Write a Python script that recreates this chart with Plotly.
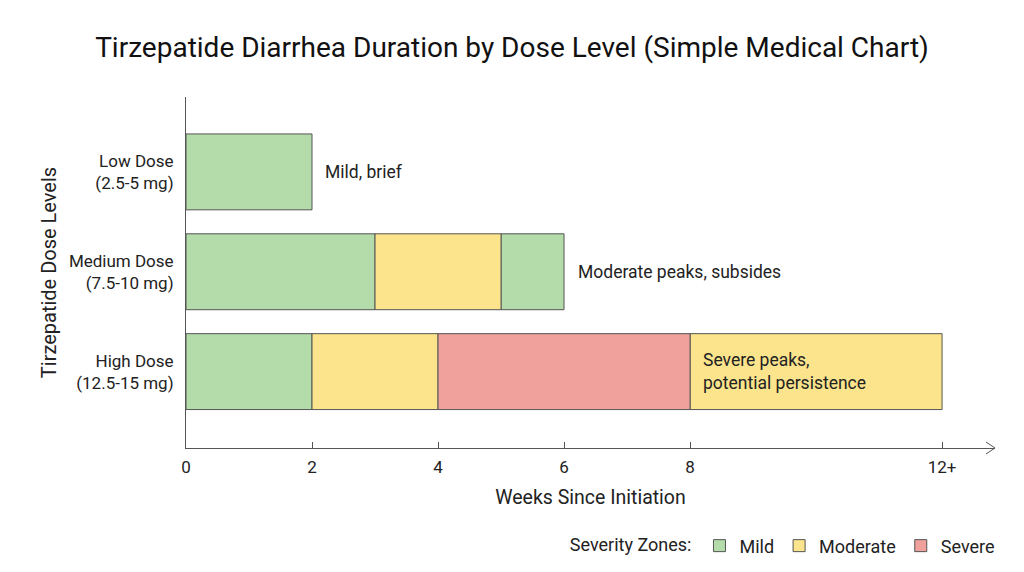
import plotly.graph_objects as go

# Data
doses = ["High Dose<br>(12.5-15 mg)", "Medium Dose<br>(7.5-10 mg)", "Low Dose<br>(2.5-5 mg)"]
seg_dose = [2, 1, 1, 1, 0, 0, 0, 0]
seg_start = [0, 0, 3, 5, 0, 2, 4, 8]
seg_end = [2, 3, 5, 6, 2, 4, 8, 12]
seg_zone = ["Mild", "Mild", "Moderate", "Mild", "Mild", "Moderate", "Severe", "Moderate"]
zones = ["Mild", "Moderate", "Severe"]
zone_colors = {"Mild": "#b3dcaa", "Moderate": "#fbe48b", "Severe": "#f0a19b"}
notes = ["Mild, brief", "Moderate peaks, subsides", "Severe peaks,<br>potential persistence"]
note_dose = [2, 1, 0]
note_x = [2.17, 6.19, 8.17]
tick_vals = [0, 2, 4, 6, 8, 12]
tick_text = ["0", "2", "4", "6", "8", "12+"]

FONT = "Roboto"
fig = go.Figure()

shown = set()
order = sorted(range(len(seg_zone)), key=lambda i: zones.index(seg_zone[i]))
for i in order:
    z = seg_zone[i]
    fig.add_trace(go.Bar(
        y=[seg_dose[i]], x=[seg_end[i] - seg_start[i]], base=[seg_start[i]],
        orientation="h", width=0.76, name=z, legendgroup=z,
        showlegend=z not in shown,
        marker=dict(color=zone_colors[z], line=dict(color="#555555", width=1)),
        hoverinfo="skip",
    ))
    shown.add(z)

for t, d, x in zip(notes, note_dose, note_x):
    fig.add_annotation(x=x, y=d, text=t, showarrow=False, xanchor="left", align="left",
                       font=dict(family=FONT, size=17.5, color="#222"))

# open chevron at the end of the x axis
fig.add_shape(type="path", xref="paper", yref="paper", xsizemode="pixel", ysizemode="pixel",
              xanchor=1.0, yanchor=0.0, path="M-9,-6 L0,0 L-9,6",
              line=dict(color="#555555", width=1))

fig.update_layout(
    width=1008, height=556,
    paper_bgcolor="white", plot_bgcolor="white",
    barmode="overlay",
    margin=dict(l=178, r=21, t=89, b=116, autoexpand=False),
    title=dict(text="Tirzepatide Diarrhea Duration by Dose Level (Simple Medical Chart)",
               x=0.5, xref="container", y=0.93, yref="container", yanchor="middle",
               font=dict(family=FONT, size=28, color="#111")),
    font=dict(family=FONT, size=17, color="#222"),
    xaxis=dict(range=[0, 12.84], tickvals=tick_vals, ticktext=tick_text,
               showline=True, linecolor="#555555", linewidth=1,
               ticks="inside", ticklen=6, tickcolor="#555555", showgrid=False,
               zeroline=False, ticklabelstandoff=4,
               title=dict(text="Weeks Since Initiation", font=dict(family=FONT, size=19.5), standoff=13),
               tickfont=dict(family=FONT, size=17)),
    yaxis=dict(range=[-0.765, 2.75], tickvals=[0, 1, 2], ticktext=doses,
               showline=True, linecolor="#555555", linewidth=1, showgrid=False,
               zeroline=False, ticks="", ticklabelstandoff=8,
               title=dict(text="Tirzepatide Dose Levels", font=dict(family=FONT, size=20), standoff=6),
               tickfont=dict(family=FONT, size=17)),
    legend=dict(orientation="h", x=1.006, xanchor="right", y=-0.279, yanchor="middle",
                title=dict(text="Severity Zones:", side="left", font=dict(family=FONT, size=18)),
                font=dict(family=FONT, size=18), itemwidth=30, traceorder="normal",
                tracegroupgap=0),
)

fig.write_html("out.html")
